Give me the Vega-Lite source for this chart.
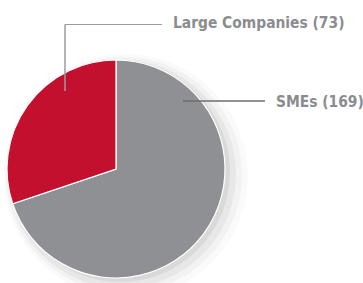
{
  "$schema": "https://vega.github.io/schema/vega-lite/v6.json",
  "width": 363,
  "height": 283,
  "padding": 0,
  "autosize": "none",
  "background": "white",
  "config": {"view": {"stroke": null}},
  "data": {
    "values": [
      {"category": "SMEs", "count": 169, "label": "SMEs (169)"},
      {"category": "Large Companies", "count": 73, "label": "Large Companies (73)"}
    ]
  },
  "layer": [
    {
      "data": {"values": [{"shadow": 1}]},
      "mark": {"type": "arc", "radius": 122, "theta": 0, "theta2": 6.2832, "fill": "#000000", "opacity": 0.02},
      "encoding": {
        "x": {"datum": 126, "type": "quantitative", "scale": {"domain": [0, 363], "nice": false, "zero": false}, "axis": null},
        "y": {"datum": 176, "type": "quantitative", "scale": {"domain": [0, 283], "nice": false, "zero": false, "reverse": true}, "axis": null}
      }
    },
    {
      "data": {"values": [{"shadow": 2}]},
      "mark": {"type": "arc", "radius": 118, "theta": 0, "theta2": 6.2832, "fill": "#000000", "opacity": 0.03},
      "encoding": {
        "x": {"datum": 124, "type": "quantitative"},
        "y": {"datum": 175, "type": "quantitative"}
      }
    },
    {
      "data": {"values": [{"shadow": 3}]},
      "mark": {"type": "arc", "radius": 114, "theta": 0, "theta2": 6.2832, "fill": "#000000", "opacity": 0.045},
      "encoding": {
        "x": {"datum": 122, "type": "quantitative"},
        "y": {"datum": 174, "type": "quantitative"}
      }
    },
    {
      "data": {"values": [{"shadow": 4}]},
      "mark": {"type": "arc", "radius": 110, "theta": 0, "theta2": 6.2832, "fill": "#000000", "opacity": 0.06},
      "encoding": {
        "x": {"datum": 120, "type": "quantitative"},
        "y": {"datum": 172, "type": "quantitative"}
      }
    },
    {
      "mark": {"type": "arc", "radius": 109, "stroke": "white", "strokeWidth": 1.2},
      "encoding": {
        "theta": {"field": "count", "type": "quantitative", "stack": true},
        "order": {"field": "category", "sort": "descending"},
        "color": {
          "field": "category",
          "type": "nominal",
          "scale": {"domain": ["SMEs", "Large Companies"], "range": ["#8f9093", "#c2102e"]},
          "legend": null
        },
        "x": {"datum": 116, "type": "quantitative"},
        "y": {"datum": 169, "type": "quantitative"}
      }
    },
    {
      "mark": {"type": "rule", "color": "#9a9b9e", "strokeWidth": 1},
      "encoding": {
        "x": {"datum": 65, "type": "quantitative"},
        "x2": {"datum": 162},
        "y": {"datum": 24.5, "type": "quantitative"}
      }
    },
    {
      "mark": {"type": "rule", "color": "#9a9b9e", "strokeWidth": 1},
      "encoding": {
        "x": {"datum": 65, "type": "quantitative"},
        "y": {"datum": 24.5, "type": "quantitative"},
        "y2": {"datum": 91}
      }
    },
    {
      "mark": {"type": "rule", "color": "#6e6f72", "strokeWidth": 1},
      "encoding": {
        "x": {"datum": 183, "type": "quantitative"},
        "x2": {"datum": 265},
        "y": {"datum": 101, "type": "quantitative"}
      }
    },
    {
      "transform": [{"filter": "datum.category === 'Large Companies'"}],
      "mark": {"type": "text", "align": "left", "baseline": "alphabetic", "font": "'DejaVu Sans Condensed', 'Roboto Condensed', Roboto, sans-serif", "fontWeight": "bold", "fontSize": 15.4, "color": "#8b8c8f"},
      "encoding": {
        "text": {"field": "label"},
        "x": {"datum": 173, "type": "quantitative"},
        "y": {"datum": 28, "type": "quantitative"}
      }
    },
    {
      "transform": [{"filter": "datum.category === 'SMEs'"}],
      "mark": {"type": "text", "align": "left", "baseline": "alphabetic", "font": "'DejaVu Sans Condensed', 'Roboto Condensed', Roboto, sans-serif", "fontWeight": "bold", "fontSize": 15.4, "color": "#8b8c8f"},
      "encoding": {
        "text": {"field": "label"},
        "x": {"datum": 276, "type": "quantitative"},
        "y": {"datum": 107, "type": "quantitative"}
      }
    }
  ]
}
